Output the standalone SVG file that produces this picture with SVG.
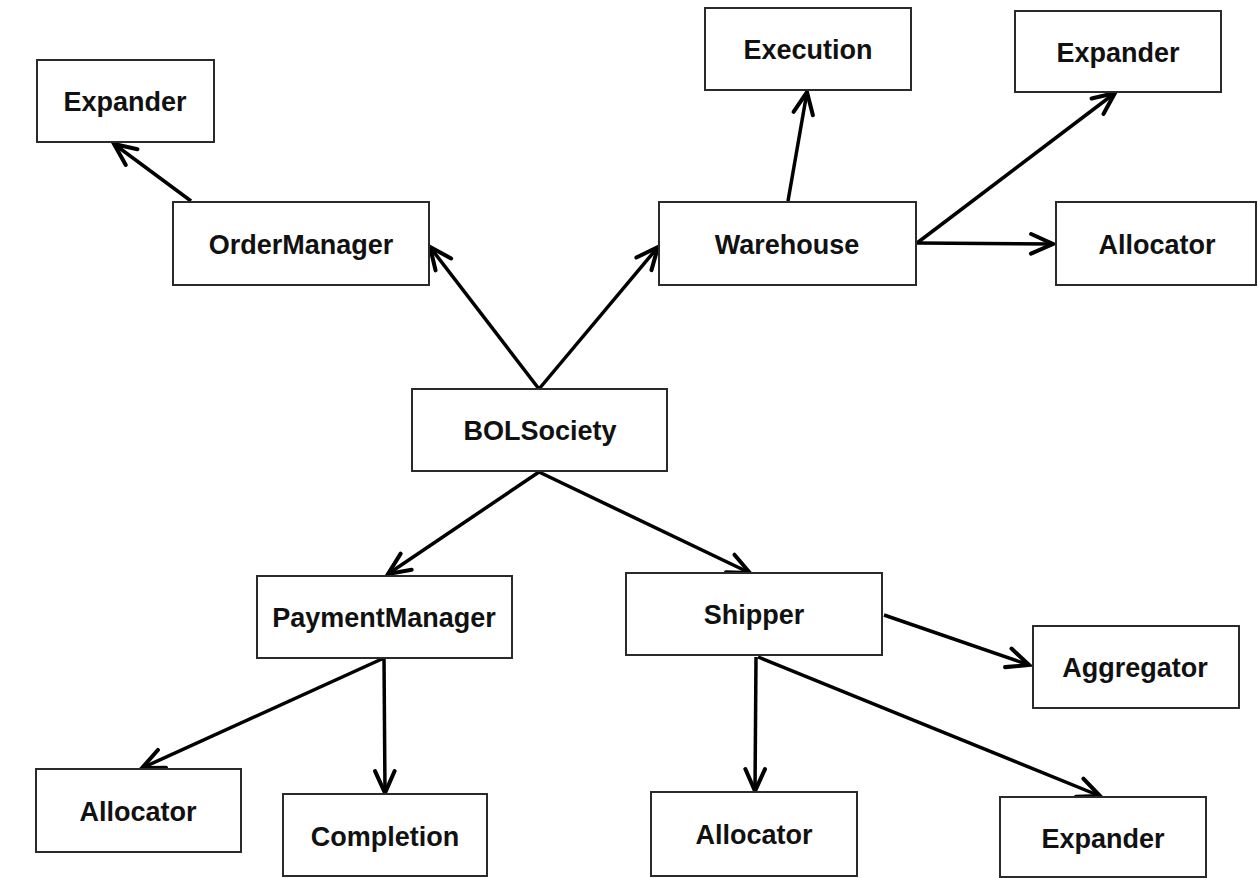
<svg xmlns="http://www.w3.org/2000/svg" width="1258" height="878" viewBox="0 0 1258 878">
<style>
.box{fill:#fff;stroke:#2a2a2a;stroke-width:2}
.lbl{font-family:"Liberation Sans",Arial,sans-serif;font-weight:bold;font-size:27px;fill:#111;text-anchor:middle}
.edge{stroke:#000;stroke-width:3.5;fill:none;marker-end:url(#arr)}
</style>
<defs>
<marker id="arr" markerUnits="userSpaceOnUse" markerWidth="30" markerHeight="30" viewBox="-22 -12 26 24" refX="0" refY="0" orient="auto">
<path d="M-19,-8.5 L0,0 L-19,8.5" fill="none" stroke="#000" stroke-width="3.5" stroke-linecap="round" stroke-linejoin="miter"/>
</marker>
</defs>
<rect width="1258" height="878" fill="#fff"/>
<g id="connectors">
<line class="edge" x1="191" y1="201" x2="114" y2="144"/>
<line class="edge" x1="539" y1="389" x2="430" y2="247"/>
<line class="edge" x1="539" y1="389" x2="658" y2="247"/>
<line class="edge" x1="788" y1="201" x2="807" y2="92"/>
<line class="edge" x1="917" y1="243" x2="1115" y2="93"/>
<line class="edge" x1="917" y1="243" x2="1053" y2="244"/>
<line class="edge" x1="539" y1="472" x2="388" y2="574"/>
<line class="edge" x1="539" y1="472" x2="750" y2="573"/>
<line class="edge" x1="884" y1="615" x2="1029" y2="665"/>
<line class="edge" x1="756" y1="657" x2="755" y2="791"/>
<line class="edge" x1="758" y1="657" x2="1100" y2="796"/>
<line class="edge" x1="384" y1="658" x2="142" y2="768"/>
<line class="edge" x1="384" y1="658" x2="385" y2="793"/>
</g>
<g id="expander1"><rect class="box" x="37" y="60" width="177" height="82"/><text class="lbl" x="125" y="111">Expander</text></g>
<g id="orderManager"><rect class="box" x="173" y="202" width="256" height="83"/><text class="lbl" x="301" y="254">OrderManager</text></g>
<g id="execution"><rect class="box" x="705" y="8" width="206" height="82"/><text class="lbl" x="808" y="59">Execution</text></g>
<g id="expander2"><rect class="box" x="1015" y="11" width="206" height="81"/><text class="lbl" x="1118" y="62">Expander</text></g>
<g id="warehouse"><rect class="box" x="659" y="202" width="257" height="83"/><text class="lbl" x="787" y="254">Warehouse</text></g>
<g id="allocator1"><rect class="box" x="1056" y="202" width="200" height="83"/><text class="lbl" x="1157" y="254">Allocator</text></g>
<g id="bolSociety"><rect class="box" x="412" y="389" width="255" height="82"/><text class="lbl" x="540" y="440">BOLSociety</text></g>
<g id="paymentManager"><rect class="box" x="257" y="576" width="255" height="82"/><text class="lbl" x="384" y="627">PaymentManager</text></g>
<g id="shipper"><rect class="box" x="626" y="573" width="256" height="82"/><text class="lbl" x="754" y="624">Shipper</text></g>
<g id="aggregator"><rect class="box" x="1033" y="626" width="206" height="82"/><text class="lbl" x="1135" y="677">Aggregator</text></g>
<g id="allocator2"><rect class="box" x="36" y="769" width="205" height="83"/><text class="lbl" x="138" y="821">Allocator</text></g>
<g id="completion"><rect class="box" x="283" y="794" width="204" height="82"/><text class="lbl" x="385" y="846">Completion</text></g>
<g id="allocator3"><rect class="box" x="651" y="792" width="206" height="84"/><text class="lbl" x="754" y="844">Allocator</text></g>
<g id="expander3"><rect class="box" x="1000" y="797" width="206" height="80"/><text class="lbl" x="1103" y="848">Expander</text></g>
</svg>
